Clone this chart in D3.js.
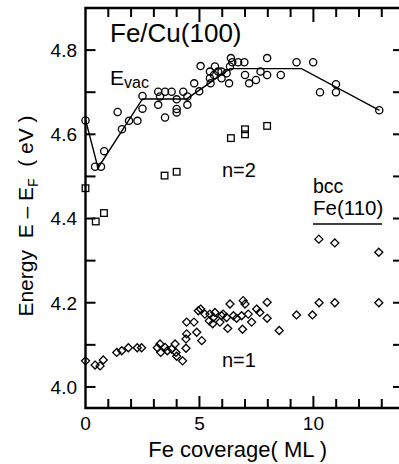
<!DOCTYPE html>
<html><head><meta charset="utf-8">
<script src="https://cdn.jsdelivr.net/npm/d3@7"></script>
<style>
html,body{margin:0;padding:0;background:#fff;}
svg{display:block;font-family:"Liberation Sans",Arial,Helvetica,sans-serif;}
text{white-space:pre;}
</style></head>
<body><svg id="c" width="399" height="464"></svg>
<script>
// ---- data (Fe coverage in ML, energy E - EF in eV) ----
const evacPoints = [[0,4.633],[0.42,4.523],[0.68,4.523],[0.82,4.56],[1.41,4.653],[1.6,4.612],[1.91,4.632],[2.28,4.632],[2.5,4.661],[2.5,4.691],[3.19,4.701],[3.19,4.67],[3.27,4.69],[3.49,4.701],[3.49,4.64],[3.78,4.701],[4.0,4.683],[4.0,4.66],[4.0,4.652],[4.29,4.701],[4.47,4.67],[4.47,4.69],[4.77,4.721],[4.99,4.702],[5.05,4.762],[5.46,4.749],[5.46,4.733],[5.49,4.721],[5.68,4.761],[5.64,4.741],[5.82,4.749],[5.97,4.749],[5.97,4.733],[6.19,4.745],[6.3,4.721],[6.34,4.761],[6.38,4.781],[6.44,4.771],[6.7,4.771],[6.97,4.771],[7.0,4.741],[7.18,4.721],[7.48,4.729],[7.68,4.749],[7.97,4.781],[7.97,4.741],[8.57,4.741],[9.26,4.771],[9.99,4.771],[10.29,4.70],[10.99,4.719],[10.99,4.70],[12.89,4.657]];
const evacLine = [[0,4.635],[0.55,4.52],[2.5,4.684],[4.44,4.684],[6.34,4.756],[9.48,4.756],[12.9,4.657]];
const n2Points = [[0,4.472],[0.45,4.393],[0.81,4.413],[3.47,4.502],[4.0,4.511],[6.38,4.591],[7.0,4.612],[7.0,4.60],[7.97,4.62]];
const n1Points = [[0,4.062],[0.42,4.052],[0.64,4.05],[0.78,4.064],[1.37,4.082],[1.59,4.086],[1.88,4.093],[2.27,4.093],[2.46,4.093],[3.15,4.093],[3.27,4.102],[3.3,4.082],[3.49,4.094],[3.59,4.086],[3.78,4.09],[3.93,4.102],[3.97,4.082],[4.0,4.073],[4.26,4.062],[4.41,4.114],[4.41,4.092],[4.44,4.126],[4.44,4.154],[4.76,4.154],[4.95,4.181],[5.05,4.185],[4.88,4.13],[5.1,4.11],[5.24,4.173],[5.46,4.173],[5.43,4.157],[5.61,4.165],[5.58,4.15],[5.68,4.177],[5.9,4.154],[5.97,4.169],[6.04,4.173],[6.19,4.165],[6.24,4.139],[6.34,4.197],[6.49,4.169],[6.63,4.163],[6.85,4.169],[6.89,4.137],[6.92,4.205],[7.0,4.197],[7.14,4.173],[7.29,4.154],[7.51,4.185],[7.65,4.177],[7.97,4.201],[7.97,4.163],[8.5,4.134],[9.26,4.171],[9.96,4.171],[10.25,4.2],[10.94,4.2],[12.87,4.2]];
const bccPoints = [[10.24,4.351],[10.94,4.342],[12.87,4.32]];
const yTickValues = [4.0,4.1,4.2,4.3,4.4,4.5,4.6,4.7,4.8];
const yTickLabels = ["4.0","4.2","4.4","4.6","4.8"];
const xTickValues = [0,1,2,3,4,5,6,7,8,9,10,11,12,13];
const xTickLabels = ["0","5","10"];

const svg = d3.select("#c");
const L = 85.5, R = 400, T = 8, B = 408;
const x = d3.scaleLinear().domain([0, 13.8]).range([L, R]);
const y = d3.scaleLinear().domain([3.95, 4.9]).range([B, T]);

// ticks
const tk = svg.append("g").attr("stroke","#000").attr("stroke-width",2);
yTickValues.forEach(v=>{
  tk.append("line").attr("x1",L).attr("x2",L+10).attr("y1",y(v)).attr("y2",y(v));
  tk.append("line").attr("x1",R-7).attr("x2",R).attr("y1",y(v)).attr("y2",y(v));
});
xTickValues.forEach(v=>{
  const len = (v%5===0)?12:9;
  if (v>0){
    tk.append("line").attr("x1",x(v)).attr("x2",x(v)).attr("y1",B).attr("y2",B-len);
    tk.append("line").attr("x1",x(v)).attr("x2",x(v)).attr("y1",T).attr("y2",T+len+ (v%5===0?2:0));
  }
});
// frame
svg.append("path").attr("d",`M${R},${T}H${L}V${B}H${R}`).attr("fill","none").attr("stroke","#000").attr("stroke-width",2.4);

// tick labels
yTickLabels.forEach(s=>{
  svg.append("text").attr("x",77).attr("y",y(+s)).attr("dy","0.36em").attr("text-anchor","end")
    .attr("font-size",19).text(s);
});
xTickLabels.forEach(s=>{
  svg.append("text").attr("x",x(+s)).attr("y",430).attr("text-anchor","middle").attr("font-size",19).text(s);
});

// axis titles
svg.append("text").attr("x",(L+R)/2 - 5).attr("y",457).attr("text-anchor","middle").attr("font-size",22).text("Fe coverage( ML )");
const yt = svg.append("text").attr("transform","translate(33,216) rotate(-90)").attr("text-anchor","middle").attr("font-size",21);
yt.append("tspan").text("Energy  E – E");
yt.append("tspan").attr("font-size",14).attr("dy",5).text("F");
yt.append("tspan").attr("dy",-5).text("  ( eV )");

// line
svg.append("path").datum(evacLine)
  .attr("d", d3.line().x(d=>x(d[0])).y(d=>y(d[1])))
  .attr("fill","none").attr("stroke","#000").attr("stroke-width",1.4);

// markers
svg.append("g").selectAll("circle").data(evacPoints).join("circle")
  .attr("cx",d=>x(d[0])).attr("cy",d=>y(d[1])).attr("r",3.6)
  .attr("fill","none").attr("stroke","#000").attr("stroke-width",1.3);
svg.append("g").selectAll("rect").data(n2Points).join("rect")
  .attr("x",d=>x(d[0])-3.3).attr("y",d=>y(d[1])-3.3).attr("width",6.6).attr("height",6.6)
  .attr("fill","none").attr("stroke","#000").attr("stroke-width",1.3);
const dia = d=>`M${x(d[0])},${y(d[1])-4}L${x(d[0])+4},${y(d[1])}L${x(d[0])},${y(d[1])+4}L${x(d[0])-4},${y(d[1])}Z`;
svg.append("g").selectAll("path").data(n1Points.concat(bccPoints)).join("path")
  .attr("d",dia).attr("fill","none").attr("stroke","#000").attr("stroke-width",1.3);

// annotations
svg.append("text").attr("x",110).attr("y",42).attr("font-size",26).text("Fe/Cu(100)");
const ev = svg.append("text").attr("x",110).attr("y",85).attr("font-size",21);
ev.append("tspan").text("E");
ev.append("tspan").attr("font-size",16).attr("dy",3).text("vac");
svg.append("text").attr("x",222).attr("y",177).attr("font-size",20).text("n=2");
svg.append("text").attr("x",222).attr("y",367).attr("font-size",20).text("n=1");
svg.append("text").attr("x",313).attr("y",193).attr("font-size",19.5).text("bcc");
svg.append("text").attr("x",313).attr("y",215).attr("font-size",20.5).text("Fe(110)");
svg.append("line").attr("x1",313).attr("x2",382).attr("y1",224).attr("y2",224).attr("stroke","#000").attr("stroke-width",1.6);
</script></body></html>
